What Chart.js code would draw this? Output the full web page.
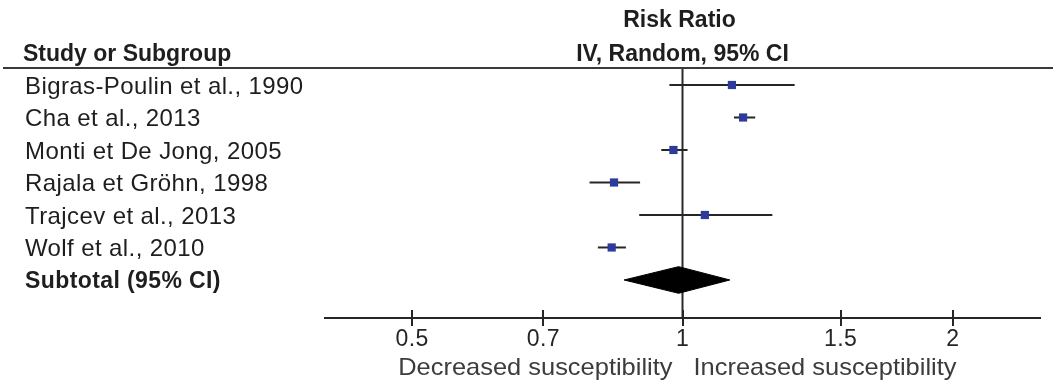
<!DOCTYPE html>
<html>
<head>
<meta charset="utf-8">
<script src="https://cdn.jsdelivr.net/npm/chart.js@4/dist/chart.umd.min.js"></script>
<style>
  html, body { margin: 0; padding: 0; background: #ffffff; }
  #c { display: block; }
</style>
</head>
<body>
<canvas id="c" width="1053" height="386"></canvas>
<script>
// ---- data ----
const studies = [
  "Bigras-Poulin et al., 1990",
  "Cha et al., 2013",
  "Monti et De Jong, 2005",
  "Rajala et Gröhn, 1998",
  "Trajcev et al., 2013",
  "Wolf et al., 2010"
];
const subtotalLabel = "Subtotal (95% CI)";
const rr   = [1.135, 1.168, 0.977, 0.839, 1.059, 0.834];
const ciLo = [0.967, 1.141, 0.947, 0.788, 0.895, 0.805];
const ciHi = [1.333, 1.205, 1.013, 0.897, 1.259, 0.865];
const subtotalRR = 0.99;
const subtotalLo = 0.861;
const subtotalHi = 1.129;
const xTicks = [0.5, 0.7, 1, 1.5, 2];
const headerTop = "Risk Ratio";
const headerSub = "IV, Random, 95% CI";
const headerLeft = "Study or Subgroup";
const favoursLeft = "Decreased susceptibility";
const favoursRight = "Increased susceptibility";

const rowLabels = studies.concat([subtotalLabel]);
const subRow = studies.length;
const FONT = "'Liberation Sans', Arial, sans-serif";

// ---- datasets ----
const squares = {
  type: 'scatter',
  data: rr.map((v, i) => ({ x: v, y: i })),
  pointStyle: 'rect',
  pointRadius: 5.8,
  pointBorderWidth: 0,
  backgroundColor: '#2d3b9c',
  borderColor: '#2d3b9c',
  order: 0
};
const ciLines = studies.map((s, i) => ({
  type: 'line',
  data: [{ x: ciLo[i], y: i }, { x: ciHi[i], y: i }],
  borderColor: '#262626',
  borderWidth: 2,
  pointRadius: 0,
  fill: false,
  order: 1
}));
const diamond = {
  type: 'line',
  data: [
    { x: subtotalLo, y: subRow },
    { x: subtotalRR, y: subRow - 0.41 },
    { x: subtotalHi, y: subRow },
    { x: subtotalRR, y: subRow + 0.41 },
    { x: subtotalLo, y: subRow }
  ],
  borderColor: '#000000',
  backgroundColor: '#000000',
  borderWidth: 1,
  pointRadius: 0,
  tension: 0,
  fill: 'shape',
  order: 1
};
const Y_MIN = -0.523, Y_MAX = 7.17;
const nullLine = {
  type: 'line',
  data: [{ x: 1, y: Y_MIN }, { x: 1, y: Y_MAX }],
  borderColor: '#2a2a2a',
  borderWidth: 2,
  pointRadius: 0,
  fill: false,
  clip: false,
  order: 2
};

// ---- letter spacing for the row labels ----
const spacing = {
  id: 'spacing',
  beforeDraw(chart) { chart.ctx.letterSpacing = '0.4px'; },
  beforeDatasetsDraw(chart) { chart.ctx.letterSpacing = '0px'; }
};

// ---- decorations plugin (texts, header rule, upper tick halves) ----
const decor = {
  id: 'decor',
  afterDraw(chart) {
    const ctx = chart.ctx;
    const xs = chart.scales.x;
    const area = chart.chartArea;
    const cx = (area.left + area.right) / 2;
    const x1 = xs.getPixelForValue(1);
    ctx.save();
    ctx.letterSpacing = '0px';
    // header rule
    ctx.strokeStyle = '#3a3a3a';
    ctx.lineWidth = 2;
    ctx.beginPath();
    ctx.moveTo(3, area.top);
    ctx.lineTo(chart.width, area.top);
    ctx.stroke();
    // upper halves of tick marks
    ctx.strokeStyle = '#262626';
    ctx.lineWidth = 2;
    xs.ticks.forEach(t => {
      const px = Math.round(xs.getPixelForValue(t.value));
      ctx.beginPath();
      ctx.moveTo(px, area.bottom - 8);
      ctx.lineTo(px, area.bottom);
      ctx.stroke();
    });
    // header texts
    ctx.fillStyle = '#1e1e1e';
    ctx.textBaseline = 'alphabetic';
    ctx.font = "bold 23px " + FONT;
    ctx.textAlign = 'center';
    ctx.fillText(headerTop, cx - 3, 27);
    ctx.fillText(headerSub, cx, 61);
    ctx.textAlign = 'left';
    ctx.fillText(headerLeft, 23, 61);
    // favours texts
    ctx.fillStyle = '#3c3c3c';
    ctx.font = "24px " + FONT;
    ctx.save();
    ctx.translate(x1 - 10, 375);
    ctx.scale(1.06, 1);
    ctx.textAlign = 'right';
    ctx.fillText(favoursLeft, 0, 0);
    ctx.restore();
    ctx.save();
    ctx.translate(x1 + 11, 375);
    ctx.scale(1.06, 1);
    ctx.textAlign = 'left';
    ctx.fillText(favoursRight, 0, 0);
    ctx.restore();
    ctx.restore();
  }
};

new Chart(document.getElementById('c'), {
  type: 'scatter',
  data: { datasets: [squares, ...ciLines, diamond, nullLine] },
  options: {
    responsive: false,
    devicePixelRatio: 1,
    animation: false,
    layout: { padding: { left: 25, right: 13, top: 68, bottom: 0 } },
    plugins: { legend: { display: false }, tooltip: { enabled: false } },
    scales: {
      x: {
        type: 'logarithmic',
        min: 0.4,
        max: 2.5,
        afterBuildTicks: s => { s.ticks = xTicks.map(v => ({ value: v })); },
        afterFit: s => { s.height = 68; },
        ticks: {
          autoSkip: false,
          maxRotation: 0,
          padding: 0,
          color: '#262626',
          font: { family: FONT, size: 23 },
          callback: v => String(v)
        },
        grid: {
          display: true,
          drawOnChartArea: false,
          tickLength: 8,
          color: '#262626',
          lineWidth: 2
        },
        border: { display: true, color: '#262626', width: 2 }
      },
      y: {
        type: 'linear',
        reverse: true,
        min: Y_MIN,
        max: Y_MAX,
        afterBuildTicks: s => { s.ticks = rowLabels.map((l, i) => ({ value: i })); },
        afterFit: s => { s.width = 300; },
        ticks: {
          autoSkip: false,
          crossAlign: 'far',
          padding: 0,
          labelOffset: 2,
          color: '#1e1e1e',
          font: c => (c.index === subRow
            ? { family: FONT, size: 23, weight: 'bold' }
            : { family: FONT, size: 24 }),
          callback: v => rowLabels[v]
        },
        grid: { display: false },
        border: { display: false }
      }
    }
  },
  plugins: [spacing, decor]
});
</script>
</body>
</html>
